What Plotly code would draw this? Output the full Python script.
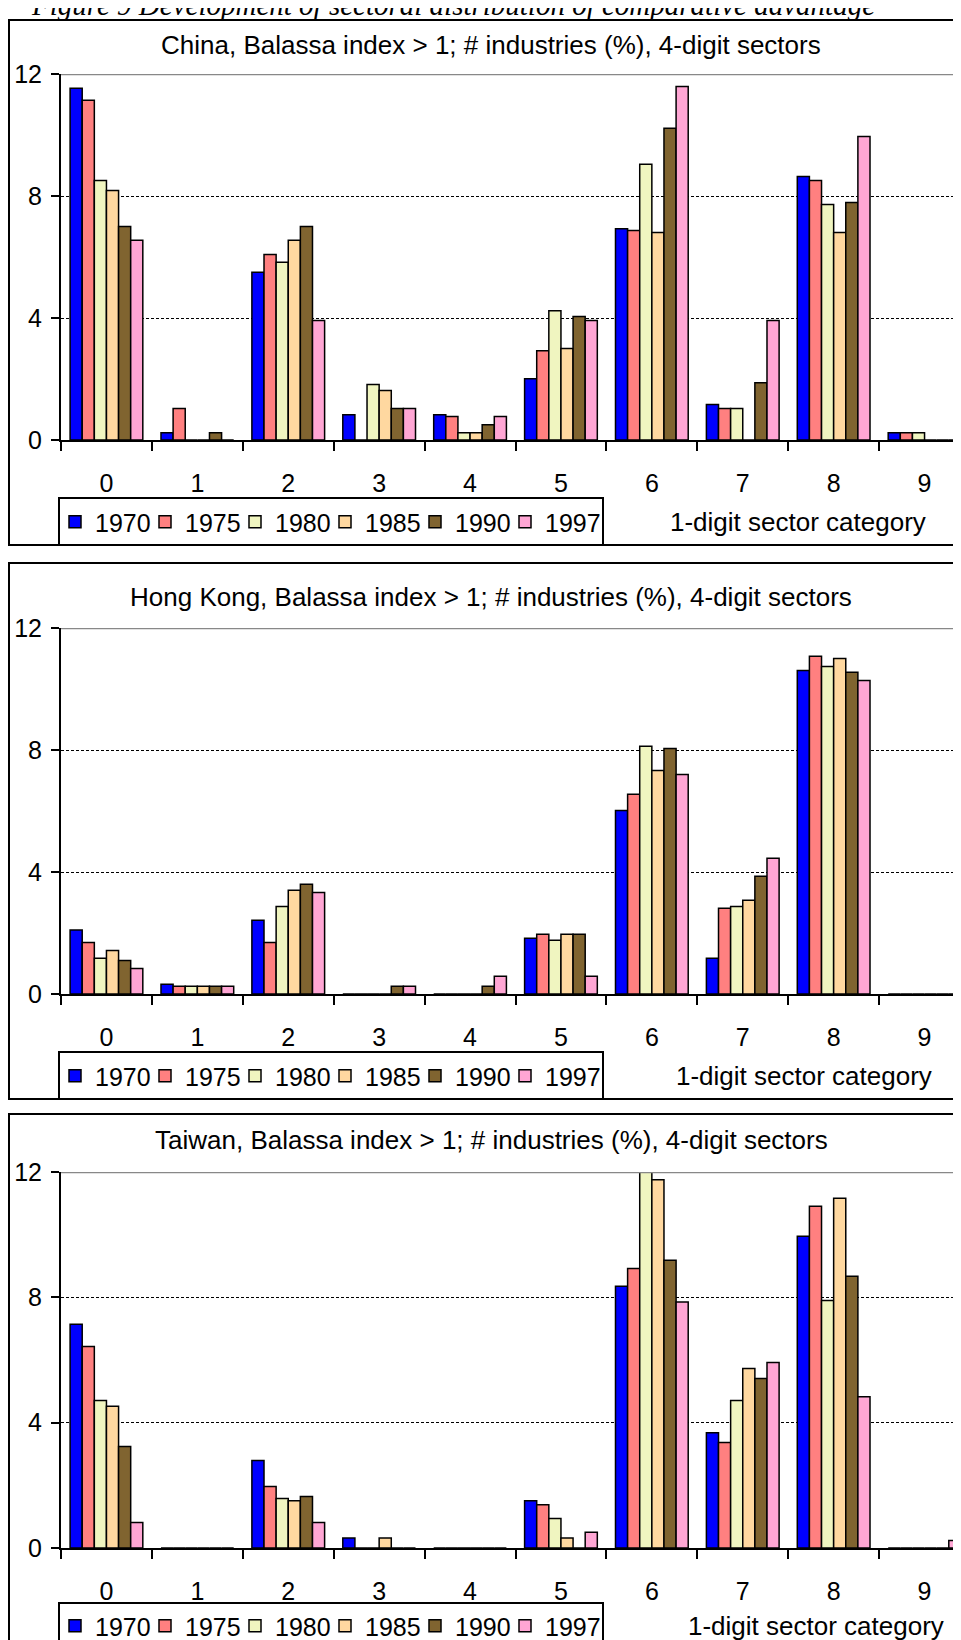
import plotly.graph_objects as go

# The page has an 8px body margin, so the figure is 8px smaller and all
# reference pixel positions are shifted by -8.
OFF = 8
W, H = 961 - OFF, 1640 - OFF
FONT = "Arial, Liberation Sans, sans-serif"

categories = ["0", "1", "2", "3", "4", "5", "6", "7", "8", "9"]
years = ["1970", "1975", "1980", "1985", "1990", "1997"]
bar_colors = ["#0000FF", "#FF8080", "#F0F5C0", "#FFD8A0", "#806430", "#FFA6D4"]

china_1970 = [11.53, 0.24, 5.50, 0.83, 0.83, 2.01, 6.93, 1.16, 8.64, 0.24]
china_1975 = [11.14, 1.03, 6.08, 0.00, 0.77, 2.93, 6.87, 1.03, 8.51, 0.24]
china_1980 = [8.51, 0.00, 5.83, 1.82, 0.24, 4.24, 9.04, 1.03, 7.72, 0.24]
china_1985 = [8.18, 0.00, 6.55, 1.62, 0.24, 3.00, 6.80, 0.00, 6.80, 0.00]
china_1990 = [7.00, 0.24, 7.00, 1.03, 0.50, 4.05, 10.22, 1.88, 7.79, 0.00]
china_1997 = [6.55, 0.00, 3.92, 1.03, 0.77, 3.92, 11.59, 3.92, 9.95, 0.00]

hk_1970 = [2.10, 0.32, 2.42, 0.00, 0.00, 1.83, 6.02, 1.17, 10.61, 0.00]
hk_1975 = [1.69, 0.25, 1.69, 0.00, 0.00, 1.96, 6.55, 2.81, 11.07, 0.00]
hk_1980 = [1.17, 0.25, 2.87, 0.00, 0.00, 1.76, 8.12, 2.87, 10.74, 0.00]
hk_1985 = [1.43, 0.25, 3.40, 0.00, 0.00, 1.96, 7.33, 3.07, 11.00, 0.00]
hk_1990 = [1.10, 0.25, 3.60, 0.25, 0.25, 1.96, 8.05, 3.86, 10.55, 0.00]
hk_1997 = [0.84, 0.25, 3.33, 0.25, 0.58, 0.58, 7.20, 4.45, 10.28, 0.00]

tw_1970 = [7.14, 0.00, 2.79, 0.32, 0.00, 1.51, 8.35, 3.68, 9.95, 0.00]
tw_1975 = [6.43, 0.00, 1.96, 0.00, 0.00, 1.38, 8.92, 3.37, 10.91, 0.00]
tw_1980 = [4.71, 0.00, 1.58, 0.00, 0.00, 0.94, 12.00, 4.71, 7.90, 0.00]
tw_1985 = [4.52, 0.00, 1.51, 0.32, 0.00, 0.32, 11.75, 5.73, 11.16, 0.00]
tw_1990 = [3.24, 0.00, 1.64, 0.00, 0.00, 0.00, 9.18, 5.41, 8.67, 0.00]
tw_1997 = [0.81, 0.00, 0.81, 0.00, 0.00, 0.50, 7.85, 5.92, 4.83, 0.24]

titles = [
    "China, Balassa index > 1; # industries (%), 4-digit sectors",
    "Hong Kong, Balassa index > 1; # industries (%), 4-digit sectors",
    "Taiwan, Balassa index > 1; # industries (%), 4-digit sectors",
]
series = [
    [china_1970, china_1975, china_1980, china_1985, china_1990, china_1997],
    [hk_1970, hk_1975, hk_1980, hk_1985, hk_1990, hk_1997],
    [tw_1970, tw_1975, tw_1980, tw_1985, tw_1990, tw_1997],
]
y_ticks = [0, 4, 8, 12]
caption = "Figure 9 Development of sectoral distribution of comparative advantage"
x_label = "1-digit sector category"

# pixel geometry of the three panels (reference page pixels)
geom = [
    dict(box_top=20, box_bot=545, zero=440, top=74, title_y=45, leg_top=498, row=522, xl_x=798),
    dict(box_top=563, box_bot=1099, zero=994, top=628, title_y=597, leg_top=1052, row=1076, xl_x=804),
    dict(box_top=1114, box_bot=1652, zero=1548, top=1172, title_y=1140, leg_top=1603, row=1626, xl_x=816),
]
PLOT_LEFT = 61
CAT_W = 90.9


def fy(v):
    return 1 - (v - OFF) / H


def fx(v):
    return (v - OFF) / W


fig = go.Figure()
layout = dict(
    width=W, height=H, margin=dict(l=0, r=0, t=0, b=0, autoexpand=False),
    paper_bgcolor="white", plot_bgcolor="white",
    bargap=0.2, bargroupgap=0, barmode="group",
    font=dict(family=FONT, color="black", size=25),
    shapes=[], annotations=[],
)

for i, g in enumerate(geom):
    sfx = "" if i == 0 else str(i + 1)
    xa, ya, lg = "x" + sfx, "y" + sfx, "legend" + sfx
    for k, (yr, vals, col) in enumerate(zip(years, series[i], bar_colors)):
        fig.add_trace(go.Bar(
            x=categories, y=vals, name=yr, xaxis=xa, yaxis=ya, legend=lg,
            marker=dict(color=col, line=dict(color="black", width=1.5)),
            legendwidth=60 if k == len(years) - 1 else 45,
            hoverinfo="skip",
        ))
    layout["xaxis" + sfx] = dict(
        domain=[fx(PLOT_LEFT), 1], type="category",
        range=[-0.5, -0.5 + (961 - PLOT_LEFT) / CAT_W],
        anchor=ya, showline=True, linecolor="black", linewidth=2,
        ticks="outside", ticklen=9, tickwidth=2, tickcolor="black",
        tickson="boundaries", showgrid=False, zeroline=False, automargin=False,
        tickfont=dict(size=25, family=FONT, color="black"),
        ticklabelstandoff=20, fixedrange=True,
    )
    layout["yaxis" + sfx] = dict(
        domain=[fy(g["zero"]), fy(g["top"])], range=[0, 12], tickvals=y_ticks,
        anchor=xa, showline=True, linecolor="black", linewidth=2,
        ticks="outside", ticklen=8, tickwidth=2, tickcolor="black",
        showgrid=True, gridcolor="black", gridwidth=1, griddash="3px,2px",
        zeroline=False, automargin=False,
        tickfont=dict(size=25, family=FONT, color="black"),
        ticklabelstandoff=4, fixedrange=True,
    )
    layout[lg] = dict(
        orientation="h", x=fx(55), xanchor="left", y=fy(g["row"]), yanchor="middle",
        font=dict(size=25, family=FONT, color="black"),
        entrywidth=45, entrywidthmode="pixels", itemwidth=30,
        borderwidth=0, bgcolor="rgba(0,0,0,0)", traceorder="normal",
    )
    # outer panel frame
    layout["shapes"].append(dict(
        type="rect", xref="paper", yref="paper", x0=fx(9), x1=1.05,
        y0=fy(g["box_bot"]), y1=fy(g["box_top"]),
        line=dict(color="black", width=2), fillcolor="rgba(0,0,0,0)",
    ))
    # legend frame
    layout["shapes"].append(dict(
        type="rect", xref="paper", yref="paper", x0=fx(59), x1=fx(603),
        y0=fy(g["box_bot"]), y1=fy(g["leg_top"]),
        line=dict(color="black", width=2), fillcolor="rgba(0,0,0,0)",
    ))
    # top gridline (grey, solid)
    layout["shapes"].append(dict(
        type="line", xref=xa + " domain", yref=ya, x0=0, x1=1, y0=12, y1=12,
        line=dict(color="#888888", width=2.5), layer="above",
    ))
    layout["annotations"].append(dict(
        text=titles[i], xref="paper", yref="paper", x=fx(491), y=fy(g["title_y"]),
        xanchor="center", yanchor="middle", showarrow=False,
        font=dict(size=26, family=FONT, color="black"),
    ))
    layout["annotations"].append(dict(
        text=x_label, xref="paper", yref="paper", x=fx(g["xl_x"]), y=fy(g["row"]),
        xanchor="center", yanchor="middle", showarrow=False,
        font=dict(size=26, family=FONT, color="black"),
    ))

layout["annotations"].append(dict(
    text="<i>" + caption + "</i>", xref="paper", yref="paper", x=fx(29), y=fy(5),
    xanchor="left", yanchor="middle", showarrow=False,
    font=dict(size=29, family="Liberation Serif, Times New Roman, serif", color="black"),
))

fig.update_layout(**layout)
fig.write_html("out.html")
